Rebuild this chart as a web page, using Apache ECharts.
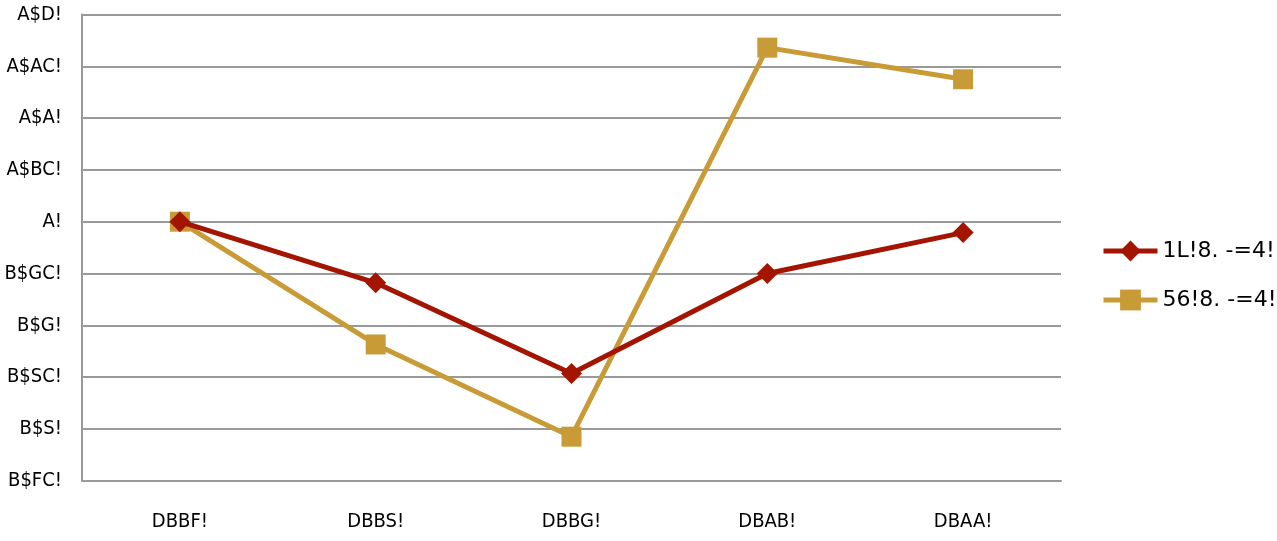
<!DOCTYPE html>
<html><head><meta charset="utf-8">
<script src="https://cdn.jsdelivr.net/npm/echarts@6/dist/echarts.min.js"></script>
<style>html,body{margin:0;padding:0;background:#fff}#c{width:1277px;height:541px}</style>
</head><body><div id="c"></div>
<script>
const categories = ['DBBF!', 'DBBS!', 'DBBG!', 'DBAB!', 'DBAA!'];
const yTickLabels = ['B$FC!', 'B$S!', 'B$SC!', 'B$G!', 'B$GC!', 'A!', 'A$BC!', 'A$A!', 'A$AC!', 'A$D!'];
const seriesNames = ['1L!8. -=4!', '56!8. -=4!'];
const redValues = [5.0, 3.82, 2.07, 4.0, 4.79];
const goldValues = [5.0, 2.63, 0.85, 8.36, 7.75];

const chart = echarts.init(document.getElementById('c'), null, {renderer: 'canvas'});
const axisFont = {fontFamily: '"DejaVu Sans Condensed", "Liberation Sans Narrow", sans-serif', fontSize: 20, color: '#000'};
chart.setOption({
  animation: false,
  grid: {left: 82, right: 216, top: 14.5, bottom: 60.3, containLabel: false},
  legend: {
    orient: 'vertical', left: 1096, top: 235, itemGap: 27,
    itemWidth: 54, itemHeight: 26,
    lineStyle: {width: 5},
    textStyle: {fontFamily: '"DejaVu Sans", sans-serif', fontSize: 22, color: '#000'},
    data: seriesNames
  },
  xAxis: {
    type: 'category', data: categories, boundaryGap: true,
    axisLine: {lineStyle: {color: '#999', width: 2}},
    axisTick: {show: false},
    axisLabel: Object.assign({margin: 31}, axisFont)
  },
  yAxis: {
    type: 'value', min: 0, max: 9, interval: 1,
    axisLine: {show: true, lineStyle: {color: '#999', width: 2}},
    axisTick: {show: false},
    splitLine: {lineStyle: {color: '#999', width: 2}},
    axisLabel: Object.assign({margin: 20, formatter: v => yTickLabels[Math.round(v)] || ''}, axisFont)
  },
  series: [
    {name: seriesNames[0], type: 'line', data: redValues, symbol: 'diamond', symbolSize: 21,
     lineStyle: {color: '#A31500', width: 5}, itemStyle: {color: '#A31500'}, z: 3},
    {name: seriesNames[1], type: 'line', data: goldValues, symbol: 'rect', symbolSize: 20,
     lineStyle: {color: '#C89B36', width: 5}, itemStyle: {color: '#C89B36'}, z: 2}
  ]
});
</script></body></html>
